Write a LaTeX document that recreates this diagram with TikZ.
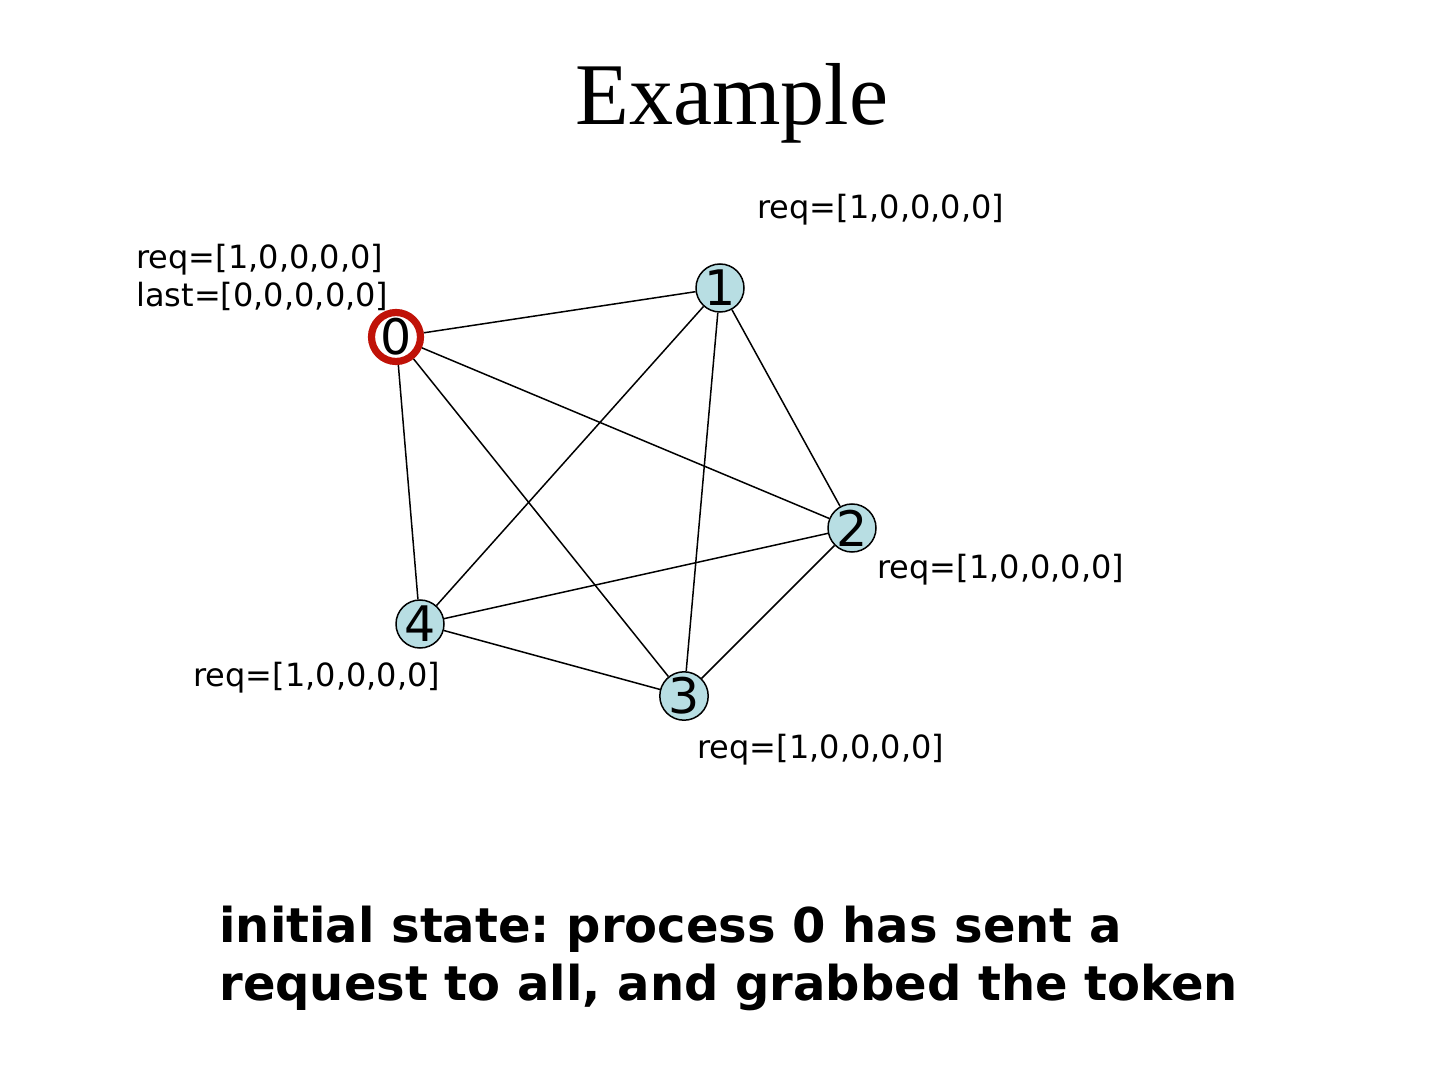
\documentclass[tikz,border=0pt]{standalone}
\usepackage{fontspec}
\setmainfont{DejaVu Sans}
\newfontfamily\titlefont{Liberation Serif}
\definecolor{nodefill}{RGB}{184,222,227}
\definecolor{tokenred}{RGB}{192,18,8}
\frenchspacing
\begin{document}
\begin{tikzpicture}[x=0.5pt,y=-0.5pt,
  proc/.style={circle,draw=black,line width=0.75pt,fill=nodefill,minimum size=24pt,inner sep=0pt,font=\fontsize{24.5}{26}\selectfont},
  holder/.style={circle,draw=tokenred,line width=3.6pt,fill=white,minimum size=24.5pt,inner sep=0pt,font=\fontsize{24.5}{26}\selectfont},
  lbl/.style={anchor=west,inner sep=0pt,align=left,font=\fontsize{16}{19}\selectfont},
  edge/.style={line width=0.75pt,draw=black}]
\useasboundingbox (0,0) rectangle (1440,1080);
\node[anchor=base,inner sep=0pt,font=\titlefont\fontsize{44}{50}\selectfont] (title) at (732,125) {Example};
\node[holder] (n0) at (396,337) {0};
\node[proc] (n1) at (720,288) {1};
\node[proc] (n2) at (852,528) {2};
\node[proc] (n3) at (684,696) {3};
\node[proc] (n4) at (420,624) {4};
\draw[edge] (n0) -- (n1);
\draw[edge] (n0) -- (n2);
\draw[edge] (n0) -- (n3);
\draw[edge] (n0) -- (n4);
\draw[edge] (n1) -- (n2);
\draw[edge] (n1) -- (n3);
\draw[edge] (n1) -- (n4);
\draw[edge] (n2) -- (n3);
\draw[edge] (n2) -- (n4);
\draw[edge] (n3) -- (n4);
\node[lbl] (l0) at (136,277) {req=[1,0,0,0,0]\\last=[0,0,0,0,0]};
\node[lbl] (l1) at (757,210) {req=[1,0,0,0,0]};
\node[lbl] (l2) at (877,570) {req=[1,0,0,0,0]};
\node[lbl] (l3) at (697,750) {req=[1,0,0,0,0]};
\node[lbl] (l4) at (193,678) {req=[1,0,0,0,0]};
\node[anchor=west,inner sep=0pt,align=left,font=\bfseries\fontsize{24}{29}\selectfont] (caption) at (219,958) {initial state: process 0 has sent a\\request to all, and grabbed the token};
\end{tikzpicture}
\end{document}
